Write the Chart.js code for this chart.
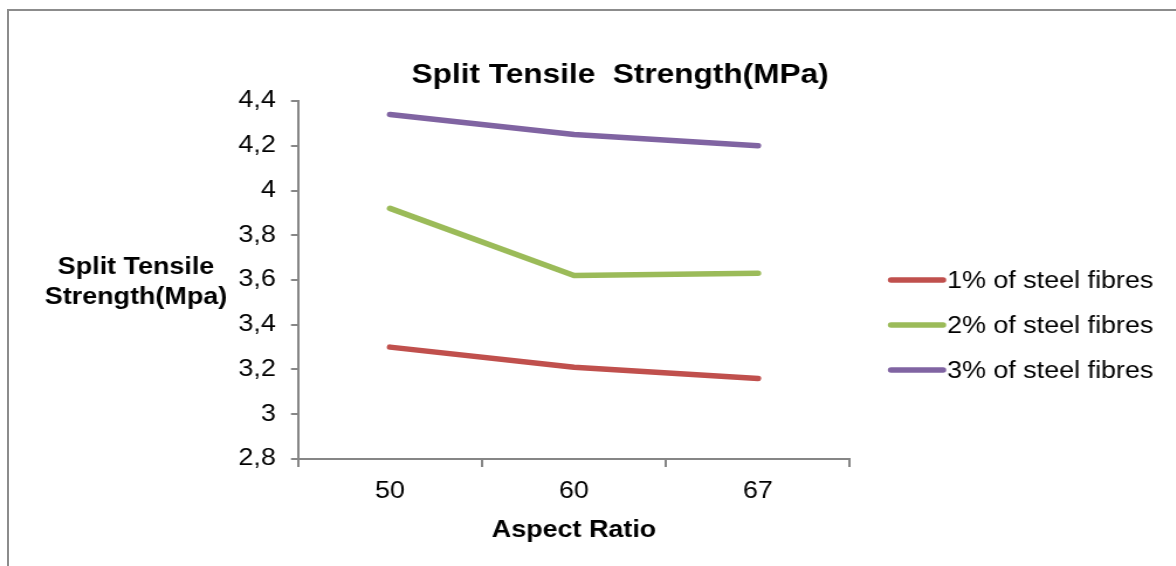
<!DOCTYPE html>
<html>
<head>
<meta charset="utf-8">
<script src="https://cdn.jsdelivr.net/npm/chart.js@4.4.1/dist/chart.umd.min.js"></script>
<style>
  html, body { margin: 0; padding: 0; background: #fff; overflow: hidden; }
  #frame {
    position: absolute; left: 7px; top: 9px; width: 1200px; height: 600px;
    border: 2px solid #8c8c8c; box-sizing: border-box;
  }
  #wrap {
    position: absolute; left: 0; top: 0;
    transform: scaleX(1.17); transform-origin: 0 0;
  }
</style>
</head>
<body>
<div id="frame"></div>
<div id="wrap"><canvas id="chart" width="1005" height="566"></canvas></div>
<script>
const categories = ['50', '60', '67'];
const seriesNames = ['1% of steel fibres', '2% of steel fibres', '3% of steel fibres'];
const fibre1 = [3.30, 3.21, 3.16];
const fibre2 = [3.92, 3.62, 3.63];
const fibre3 = [4.34, 4.25, 4.20];
const colors = ['#C0504D', '#9BBB59', '#8064A2'];
const yTicks = [2.8, 4.4, 0.2]; // min, max, step

const S = 1.17; // horizontal stretch of the original picture
const FONT = "'Liberation Sans', Arial, sans-serif";
const AXIS = '#868686';

// title, y title, x title and legend drawn on the canvas
const extras = {
  id: 'extras',
  afterDraw(chart) {
    const { ctx, chartArea } = chart;
    ctx.save();
    ctx.fillStyle = '#000';
    ctx.textAlign = 'center';
    ctx.textBaseline = 'middle';
    ctx.font = `bold 27px ${FONT}`;
    ctx.fillText('Split Tensile  Strength(MPa)', 620 / S, 76);

    ctx.font = `bold 23px ${FONT}`;
    ctx.fillText('Split Tensile', 136 / S, 268);
    ctx.fillText('Strength(Mpa)', 136 / S, 298);
    ctx.fillText('Aspect Ratio', (chartArea.left + chartArea.right) / 2, 531);

    ctx.font = `23px ${FONT}`;
    ctx.textAlign = 'left';
    chart.data.datasets.forEach((ds, i) => {
      const y = 280 + i * 45;
      ctx.strokeStyle = ds.borderColor;
      ctx.lineWidth = 5.5;
      ctx.lineCap = 'round';
      ctx.beginPath();
      ctx.moveTo(891 / S, y);
      ctx.lineTo(943 / S, y);
      ctx.stroke();
      ctx.fillText(ds.label, 947 / S, y + 2);
    });
    ctx.restore();
  },
};

const makeSet = (label, data, color) => ({
  label,
  data,
  borderColor: color,
  backgroundColor: color,
  borderWidth: 5.5,
  borderCapStyle: 'round',
  borderJoinStyle: 'round',
  pointRadius: 0,
  tension: 0,
  fill: false,
});

new Chart(document.getElementById('chart'), {
  type: 'line',
  data: {
    labels: categories,
    datasets: [
      makeSet(seriesNames[0], fibre1, colors[0]),
      makeSet(seriesNames[1], fibre2, colors[1]),
      makeSet(seriesNames[2], fibre3, colors[2]),
    ],
  },
  options: {
    responsive: false,
    animation: false,
    layout: { padding: { left: 0, top: 101, right: 1005 - 850 / S, bottom: 0 } },
    plugins: { legend: { display: false }, title: { display: false }, tooltip: { enabled: false } },
    scales: {
      x: {
        offset: true,
        grid: { offset: true, drawOnChartArea: false, color: AXIS, tickLength: 8, lineWidth: 2 },
        border: { color: AXIS, width: 2 },
        ticks: { color: '#000', font: { family: FONT, size: 23 }, padding: 11, maxRotation: 0 },
        afterFit(scale) { scale.height = 566 - 459; },
      },
      y: {
        min: yTicks[0],
        max: yTicks[1],
        grid: { drawOnChartArea: false, color: AXIS, tickLength: 6, lineWidth: 2 },
        border: { color: AXIS, width: 2 },
        ticks: {
          stepSize: yTicks[2],
          color: '#000',
          font: { family: FONT, size: 23 },
          padding: 13,
          callback: (v) => String(Math.round(v * 10) / 10).replace('.', ','),
        },
        afterFit(scale) { scale.width = 298 / S; },
      },
    },
  },
  plugins: [extras],
});
</script>
</body>
</html>
